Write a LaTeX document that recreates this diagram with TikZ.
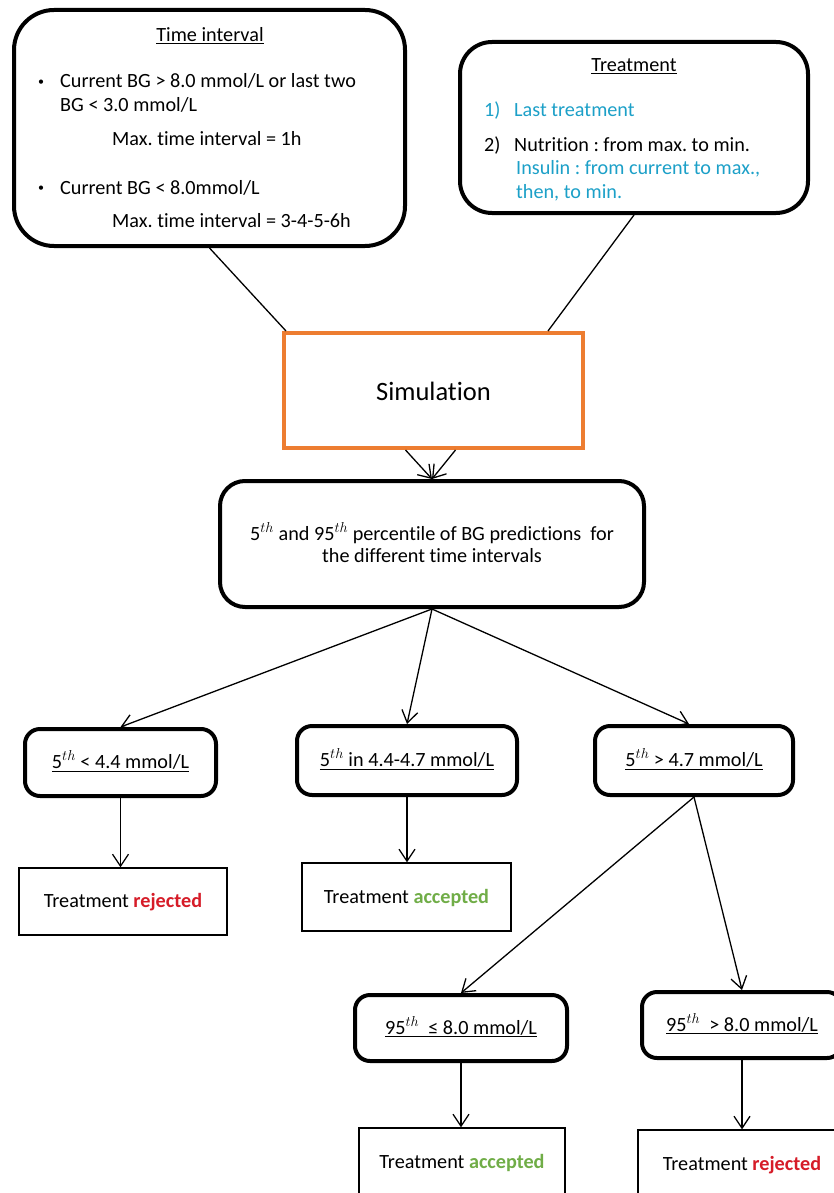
\documentclass[tikz,border=0pt]{standalone}
\usepackage{fontspec}
\setmainfont{Carlito}[Ligatures={NoCommon,NoContextual}]
\usetikzlibrary{arrows.meta,calc}
\definecolor{simorange}{RGB}{237,125,49}
\definecolor{infoblue}{RGB}{28,160,200}
\definecolor{okgreen}{RGB}{112,173,71}
\definecolor{badred}{RGB}{214,28,40}
\newcommand{\smallbullet}{\raisebox{2.5pt}{\fontsize{12}{12}\selectfont •}}
\frenchspacing

\begin{document}
\begin{tikzpicture}[x=1pt,y=-1pt,
  font=\fontsize{20.2}{24}\selectfont,
  roundbox/.style={draw, line width=4pt, fill=white, inner sep=0pt},
  condbox/.style={roundbox, rounded corners=15pt, text height=16pt, text depth=4pt},
  resultbox/.style={draw, line width=1.3pt, fill=white, inner sep=0pt, text height=16pt, text depth=4pt},
  conn/.style={line width=1.3pt},
  arr/.style={conn, -{Straight Barb[length=12pt,width=16pt]}},
  txt/.style={inner sep=0pt, anchor=base west},
  ctxt/.style={inner sep=0pt, anchor=base}]

\clip (0,0) rectangle (834,1193);
\fill[white] (0,0) rectangle (834,1193);

% time interval rules
\node[roundbox, rounded corners=40pt, minimum width=391pt, minimum height=236pt] (ti) at (209.5,128) {};
\node[ctxt] (tihead) at (210,42) {\underline{Time interval}};
\node[txt] (tib1) at (38,88) {\smallbullet};
\node[txt] (til1) at (60,88) {Current BG > 8.0 mmol/L or last two};
\node[txt] (til2) at (60,112) {BG < 3.0 mmol/L};
\node[txt] (til3) at (112,146) {Max. time interval = 1h};
\node[txt] (tib2) at (38,194) {\smallbullet};
\node[txt] (til4) at (60,194) {Current BG < 8.0mmol/L};
\node[txt] (til5) at (112,227) {Max. time interval = 3-4-5-6h};

% treatment order
\node[roundbox, rounded corners=32pt, minimum width=348pt, minimum height=171pt] (tr) at (634,127.5) {};
\node[ctxt] (trhead) at (634,72) {\underline{Treatment}};
\node[txt, text=infoblue] (trn1) at (484,117) {1)};
\node[txt, text=infoblue] (trl1) at (514,117) {Last treatment};
\node[txt] (trn2) at (484,152) {2)};
\node[txt] (trl2) at (514,152) {Nutrition : from max. to min.};
\node[txt, text=infoblue] (trl3) at (516,175) {Insulin : from current to max.,};
\node[txt, text=infoblue] (trl4) at (516,198) {then, to min.};

% simulation
\node[draw=simorange, line width=4pt, fill=white, inner sep=0pt,
      minimum width=299pt, minimum height=115pt, text height=23pt, text depth=4pt,
      font=\fontsize{26.5}{30}\selectfont] (sim) at (433.5,390.5) {Simulation};

% percentile predictions
\node[roundbox, rounded corners=25pt, minimum width=424pt, minimum height=126pt] (pc) at (432,544) {};
\node[ctxt] (pct1) at (432,540) {5$^{th}$ and 95$^{th}$ percentile of BG predictions\ \ for};
\node[ctxt] (pct2) at (432,562) {the different time intervals};

% first decision level
\node[condbox, minimum width=191pt, minimum height=67pt] (a1) at (120.5,762.5) {\underline{5$^{th}$ < 4.4 mmol/L}};
\node[condbox, minimum width=220pt, minimum height=69pt] (a2) at (407,760.5) {\underline{5$^{th}$ in 4.4-4.7 mmol/L}};
\node[condbox, minimum width=198pt, minimum height=69pt] (a3) at (694,760.5) {\underline{5$^{th}$ > 4.7 mmol/L}};

\node[resultbox, minimum width=208pt, minimum height=67pt] (r1) at (123,901.5) {Treatment \textbf{\textcolor{badred}{rejected}}};
\node[resultbox, minimum width=209pt, minimum height=68pt] (c2) at (406.5,897) {Treatment \textbf{\textcolor{okgreen}{accepted}}};

% second decision level
\node[condbox, minimum width=212pt, minimum height=66pt] (b1) at (461,1028) {\underline{95$^{th}$\ \ ≤ 8.0 mmol/L}};
\node[condbox, minimum width=200pt, minimum height=66pt] (b2) at (742,1025) {\underline{95$^{th}$\ \ > 8.0 mmol/L}};

\node[resultbox, minimum width=206pt, minimum height=68pt] (c3) at (462,1162) {Treatment \textbf{\textcolor{okgreen}{accepted}}};
\node[resultbox, minimum width=208pt, minimum height=68pt] (r3) at (742,1164) {Treatment \textbf{\textcolor{badred}{rejected}}};

% connectors
\draw[conn] (ti.south) -- ([xshift=4pt]sim.north west);
\draw[conn] (tr.south) -- ([xshift=-37pt]sim.north east);
\draw[arr] ([xshift=-28pt]sim.south) -- (pc.north);
\draw[arr] ([xshift=22pt]sim.south) -- (pc.north);
\draw[arr] (pc.south) -- (a1.north);
\draw[arr] (pc.south) -- (a2.north);
\draw[arr] (pc.south) -- ([xshift=-5pt]a3.north);
\draw[arr] (a1.south) -- (a1.south |- r1.north);
\draw[arr] (a2.south) -- (a2.south |- c2.north);
\draw[arr] (a3.south) -- (b1.north);
\draw[arr] (a3.south) -- (b2.north);
\draw[arr] (b1.south) -- (b1.south |- c3.north);
\draw[arr] (b2.south) -- (b2.south |- r3.north);
\end{tikzpicture}
\end{document}
